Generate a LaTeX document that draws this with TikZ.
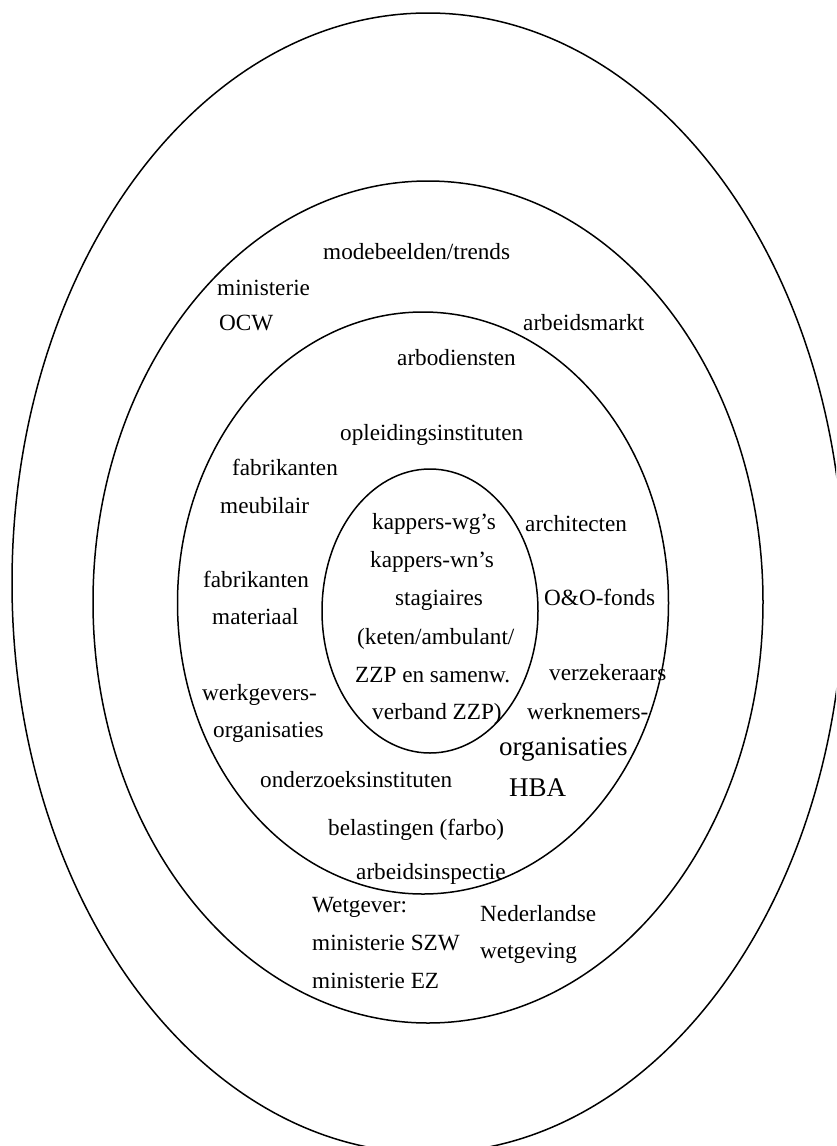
\documentclass[tikz,border=0pt]{standalone}
\usepackage{fontspec}
\setmainfont{Liberation Serif}
\begin{document}
\begin{tikzpicture}[x=1pt,y=-1pt,
  ring/.style={line width=1.5pt},
  lbl/.style={anchor=base west,inner sep=0pt,font=\fontsize{23.2}{28}\selectfont},
  big/.style={anchor=base west,inner sep=0pt,font=\fontsize{27}{32}\selectfont}]
\clip (0,0) rectangle (836,1146);
\fill[white] (0,0) rectangle (836,1146);
% rings
\draw[ring] (428,583) ellipse [x radius=416, y radius=570];
\draw[ring] (428,602) ellipse [x radius=335, y radius=421];
\draw[ring] (423,603) ellipse [x radius=245.5, y radius=291];
\draw[ring] (430,611) ellipse [x radius=108, y radius=142];
% outer ring band
\node[lbl] (mode) at (323,259) {modebeelden/trends};
\node[lbl] (min1) at (217,295) {ministerie};
\node[lbl] (ocw) at (219,330) {OCW};
\node[lbl] (amarkt) at (523,330) {arbeidsmarkt};
\node[lbl] (wetg) at (312,912) {Wetgever:};
\node[lbl] (szw) at (312,950) {ministerie SZW};
\node[lbl] (ez) at (312,988) {ministerie EZ};
\node[lbl] (ned) at (480,921) {Nederlandse};
\node[lbl] (wetging) at (480,958) {wetgeving};
% middle band
\node[lbl] (arbo) at (397,365) {arbodiensten};
\node[lbl] (opl) at (340,440) {opleidingsinstituten};
\node[lbl] (fab1) at (232,475) {fabrikanten};
\node[lbl] (meub) at (220,513) {meubilair};
\node[lbl] (arch) at (525,531) {architecten};
\node[lbl] (fab2) at (203,587) {fabrikanten};
\node[lbl] (mat) at (212,624) {materiaal};
\node[lbl] (oo) at (544,605) {O\&O-fonds};
\node[lbl] (verz) at (549,680) {verzekeraars};
\node[lbl] (wg) at (202,700) {werkgevers-};
\node[lbl] (org1) at (213,737) {organisaties};
\node[lbl] (wn) at (527,719) {werknemers-};
\node[big] (org2) at (499,755) {organisaties};
\node[lbl] (onderz) at (260,787) {onderzoeksinstituten};
\node[big] (hba) at (509,796) {HBA};
\node[lbl] (bel) at (328,835) {belastingen (farbo)};
\node[lbl] (insp) at (356,879) {arbeidsinspectie};
% core
\node[lbl] (k1) at (372,529) {kappers-wg’s};
\node[lbl] (k2) at (370,567) {kappers-wn’s};
\node[lbl] (k3) at (395,605) {stagiaires};
\node[lbl] (k4) at (357,644) {(keten/ambulant/};
\node[lbl] (k5) at (355,682) {ZZP en samenw.};
\node[lbl] (k6) at (372,719) {verband ZZP)};
\end{tikzpicture}
\end{document}
